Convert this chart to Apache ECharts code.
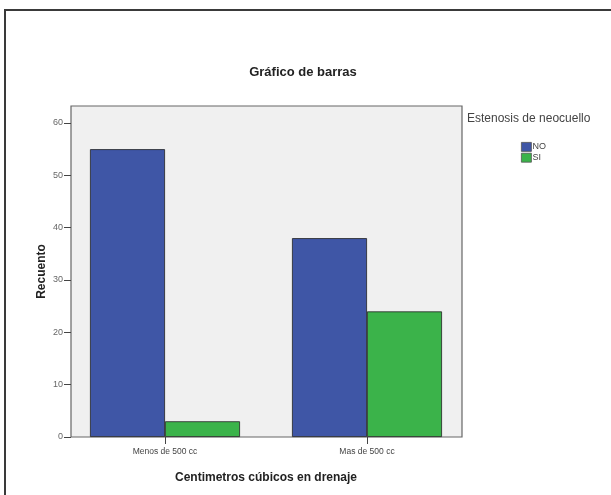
<!DOCTYPE html>
<html>
<head>
<meta charset="utf-8">
<script src="https://cdn.jsdelivr.net/npm/echarts@6/dist/echarts.min.js"></script>
<style>
html,body{margin:0;padding:0;background:#fff;}
#chart{width:611px;height:495px;}
</style>
</head>
<body>
<div id="chart"></div>
<script>
const categories = ['Menos de 500 cc', 'Mas de 500 cc'];
const seriesNames = ['NO', 'SI'];
const valuesNO = [55, 38];
const valuesSI = [3, 24];
const yTicks = [0, 10, 20, 30, 40, 50, 60];

const chart = echarts.init(document.getElementById('chart'));
const FONT = 'Liberation Sans, Arial, sans-serif';
chart.setOption({
  animation: false,
  backgroundColor: '#ffffff',
  title: {
    text: 'Gráfico de barras',
    left: 298, top: 61, textAlign: 'center',
    textStyle: {fontFamily: FONT, fontSize: 13, fontWeight: 'bold', color: '#222'}
  },
  legend: {
    orient: 'vertical', left: 516, top: 137,
    itemWidth: 10, itemHeight: 9, itemGap: 1,
    icon: 'rect',
    itemStyle: {borderColor: '#555', borderWidth: 0.8},
    textStyle: {fontFamily: FONT, fontSize: 9, color: '#444', padding: [0,0,0,-4]},
    data: seriesNames
  },
  grid: {left: 64, right: 143, top: 106, bottom: 58, containLabel: false},
  xAxis: {
    type: 'category', data: categories,
    name: 'Centimetros cúbicos en drenaje', nameLocation: 'middle', nameGap: 35,
    nameMoveOverlap: false,
    nameTextStyle: {fontFamily: FONT, fontSize: 12, fontWeight: 'bold', color: '#222'},
    axisLine: {show: false},
    axisTick: {show: true, alignWithLabel: true, length: 7, lineStyle: {color: '#444'}},
    axisLabel: {fontFamily: FONT, fontSize: 8.5, color: '#444', margin: 10},
    splitLine: {show: false}
  },
  yAxis: {
    type: 'value', min: 0, max: 63.25, interval: 10, offset: -7,
    name: 'Recuento', nameLocation: 'middle', nameGap: 23, nameRotate: 90,
    nameMoveOverlap: false,
    nameTextStyle: {fontFamily: FONT, fontSize: 12, fontWeight: 'bold', color: '#222'},
    axisLine: {show: false},
    axisTick: {show: true, length: 7, lineStyle: {color: '#444'}, customValues: yTicks},
    axisLabel: {fontFamily: FONT, fontSize: 9, color: '#666', margin: 8, customValues: yTicks,
      formatter: v => (v % 10 === 0 ? String(v) : '')},
    splitLine: {show: false}
  },
  graphic: [
    {type: 'rect', z: -10, shape: {x: 5, y: 10, width: 700, height: 600},
      style: {fill: '#ffffff', stroke: '#3a3a3a', lineWidth: 2}},
    {type: 'rect', z: -5, shape: {x: 71, y: 106, width: 391, height: 331},
      style: {fill: '#f0f0f0', stroke: '#666', lineWidth: 1.2}},
    {type: 'text', left: 467, top: 113, z: 10,
      style: {text: 'Estenosis de neocuello', fontFamily: FONT, fontSize: 12, fill: '#444'}}
  ],
  series: [
    {name: 'NO', type: 'bar', data: valuesNO, barWidth: 75, barGap: '0%',
      itemStyle: {color: '#3f56a6', borderColor: '#222', borderWidth: 0.8}},
    {name: 'SI', type: 'bar', data: valuesSI, barWidth: 75, barGap: '0%',
      itemStyle: {color: '#3bb34a', borderColor: '#222', borderWidth: 0.8}}
  ]
});
</script>
</body>
</html>
